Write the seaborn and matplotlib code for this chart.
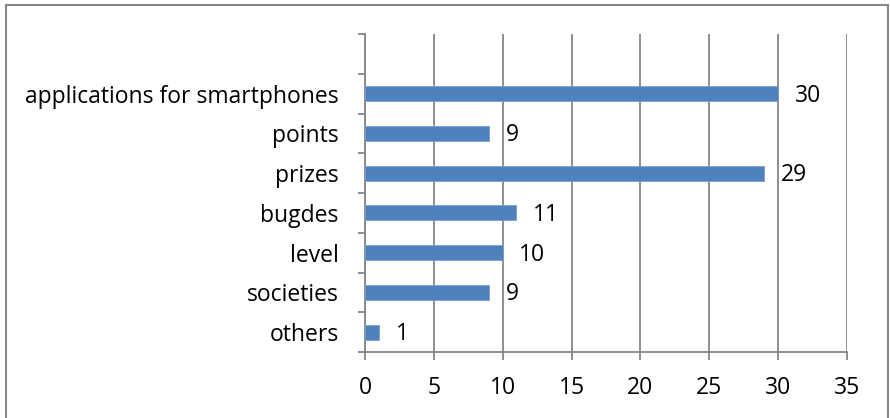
import matplotlib
matplotlib.use("Agg")
import matplotlib.pyplot as plt
import seaborn as sns
import pandas as pd
from matplotlib.patches import Rectangle
from matplotlib.ticker import FixedLocator

categories = ["applications for smartphones", "points", "prizes", "bugdes",
              "level", "societies", "others"]
values = [30, 9, 29, 11, 10, 9, 1]
x_ticks = [0, 5, 10, 15, 20, 25, 30, 35]

grey = "#868686"
bar_color = "#4F81BD"
fs = 16.5

sns.set_style("white")
plt.rcParams["font.family"] = ["Open Sans", "DejaVu Sans"]
plt.rcParams["text.color"] = "black"

df = pd.DataFrame({"category": categories, "value": values})

fig = plt.figure(figsize=(8.9, 4.18), dpi=100)
ax = fig.add_axes([365 / 890, 1 - 352 / 418, (847 - 365) / 890, (352 - 34) / 418])

sns.barplot(data=df, x="value", y="category", order=categories, orient="h",
            color=bar_color, width=0.38, saturation=1, ax=ax,
            edgecolor="#7a9fd0", linewidth=0.6, zorder=3)

n = len(categories)
ax.set_ylim(n - 0.5, -1.5)
ax.set_xlim(0, 35)
ax.set_xticks(x_ticks)
ax.set_xlabel("")
ax.set_ylabel("")

# vertical gridlines
ax.grid(axis="x", color=grey, linewidth=1.3, zorder=0)
ax.set_axisbelow(True)

for s in ["top", "right"]:
    ax.spines[s].set_visible(False)
for s in ["left", "bottom"]:
    ax.spines[s].set_color(grey)
    ax.spines[s].set_linewidth(1.3)

# category tick marks at slot boundaries
ax.yaxis.set_minor_locator(FixedLocator([i - 0.5 for i in range(-1, n + 1)]))
ax.tick_params(axis="y", which="major", length=0, pad=19, labelsize=fs,
               labelcolor="black")
ax.tick_params(axis="y", which="minor", length=5, width=1.3, color=grey,
               direction="out", left=True)
ax.tick_params(axis="x", which="major", length=6, width=1.3, color=grey,
               direction="out", bottom=True, pad=11, labelsize=fs,
               labelcolor="black")

for i, v in enumerate(values):
    ax.annotate(str(v), xy=(v, i), xytext=(12, -1.5), textcoords="offset points",
                va="center", ha="left", fontsize=fs, color="black")

# outer chart border (bottom edge falls outside the image)
fig.patches.append(Rectangle((5.5 / 890, -5 / 418), 882.5 / 890, 418.5 / 418,
                             transform=fig.transFigure, fill=False,
                             edgecolor=grey, linewidth=1.5))

fig.savefig("out.png", dpi=100)
